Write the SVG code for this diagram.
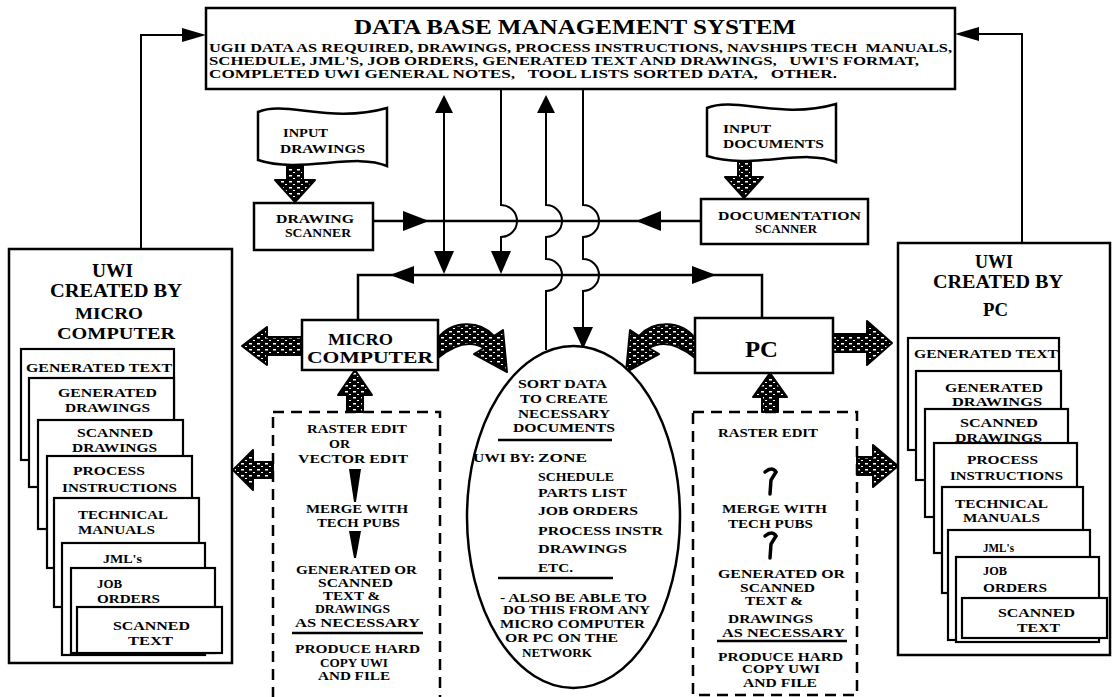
<svg xmlns="http://www.w3.org/2000/svg" width="1112" height="697" viewBox="0 0 1112 697">
<style>
.t{font-family:"Liberation Serif","DejaVu Serif",serif;font-weight:bold;fill:#000}
.f21{font-size:21px}.f19{font-size:19px}.f18{font-size:17.5px}.f14{font-size:13.5px}.f125{font-size:12.5px}.f13{font-size:13px}.f12{font-size:12px}.f16{font-size:16px}.f23{font-size:23px}
.box{fill:#fff;stroke:#000;stroke-width:2.5}
.card{fill:#fff;stroke:#000;stroke-width:2.2}
.dash{fill:none;stroke:#000;stroke-width:2.5;stroke-dasharray:11 7}
.ln{fill:none;stroke:#000;stroke-width:2}
.hd{fill:#000}
.blk{fill:url(#spk);stroke:#000;stroke-width:2;stroke-linejoin:round}
.rule{stroke:#000;stroke-width:2.5}
.sq{fill:none;stroke:#000;stroke-width:3.5;stroke-linecap:round}
</style>
<defs>
<pattern id="spk" width="8" height="6" patternUnits="userSpaceOnUse">
<rect width="8" height="6" fill="#000"/>
<rect x="1" y="1" width="3" height="1.5" fill="#fff"/>
<rect x="5" y="4" width="2" height="1" fill="#fff"/>
</pattern>
</defs>

<g id="connectors">
<path class="ln" d="M141,249 V35 H182"/>
<polygon class="hd" points="182,28 206,35 182,42"/>
<path class="ln" d="M1022,243 V34 H979"/>
<polygon class="hd" points="979,27 955,34 979,41"/>
<path class="ln" d="M444,112 V253"/>
<polygon class="hd" points="435,113 453,113 444,95"/>
<polygon class="hd" points="434,251 454,251 444,274"/>
<path class="ln" d="M501,89 V205 A16,16 0 0 1 501,237 V253"/>
<polygon class="hd" points="491,251 511,251 501,274"/>
<path class="ln" d="M546,112 V205 A16,16 0 0 1 546,237 V259 A16,16 0 0 1 546,291 V350"/>
<polygon class="hd" points="537,113 555,113 546,95"/>
<path class="ln" d="M583,89 V205 A16,16 0 0 1 583,237 V259 A16,16 0 0 1 583,291 V330"/>
<polygon class="hd" points="573,327 593,327 583,349"/>
<path class="ln" d="M373,221 H701" style="stroke-width:2.5"/>
<polygon class="hd" points="403,211 429,221 403,231"/>
<polygon class="hd" points="661,211 636,221 661,231"/>
<path class="ln" d="M358,320 V275 H762 V318" style="stroke-width:2.5"/>
<polygon class="hd" points="414,266 390,275 414,284"/>
<polygon class="hd" points="692,266 716,275 692,284"/>
<polygon class="blk" points="287,166 303,166 303,180 315,180 295,202 275,180 287,180"/>
<polygon class="blk" points="738,162 751,162 751,177 763,177 744,198 725,177 738,177"/>
<polygon class="blk" points="302,337 267,337 267,327 242,346 267,365 267,355 302,355"/>
<polygon class="blk" points="833,334 867,334 867,321 892,343 867,365 867,352 833,352"/>
<polygon class="blk" points="273,462 253,462 253,450 233,470 253,490 253,478 273,478"/>
<polygon class="blk" points="857,457 873,457 873,445 898,466 873,487 873,475 857,475"/>
<polygon class="blk" points="347,412 347,395 338,395 355,370 372,395 363,395 363,412"/>
<polygon class="blk" points="762,412 762,397 753,397 770,373 787,397 778,397 778,412"/>
<path class="blk" d="M438,338 C452,320 480,320 494,336 L503,330 L507,372 L474,354 L484,348 C470,340 455,344 438,358 Z"/>
<path class="blk" d="M695,338 C681,320 653,320 639,336 L630,330 L626,372 L659,354 L649,348 C663,340 678,344 695,358 Z"/>
</g>

<g id="dbms">
<rect class="box" x="206" y="8" width="749" height="81"/>
<text class="t f21" x="354" y="34" textLength="442" lengthAdjust="spacingAndGlyphs">DATA BASE MANAGEMENT SYSTEM</text>
<text class="t f12" x="209" y="52" textLength="743" lengthAdjust="spacingAndGlyphs" xml:space="preserve">UGII DATA AS REQUIRED, DRAWINGS, PROCESS INSTRUCTIONS, NAVSHIPS TECH  MANUALS,</text>
<text class="t f12" x="209" y="65" textLength="710" lengthAdjust="spacingAndGlyphs" xml:space="preserve">SCHEDULE, JML'S, JOB ORDERS, GENERATED TEXT AND DRAWINGS,   UWI'S FORMAT,</text>
<text class="t f12" x="209" y="78" textLength="628" lengthAdjust="spacingAndGlyphs" xml:space="preserve">COMPLETED UWI GENERAL NOTES,   TOOL LISTS SORTED DATA,   OTHER.</text>
</g>

<g id="input-drawings">
<path class="box" d="M258,112 C285,100 330,124 387,108 L387,166 C355,152 300,174 258,160 Z"/>
<text class="t f12" x="283" y="137" textLength="45" lengthAdjust="spacingAndGlyphs">INPUT</text>
<text class="t f12" x="280" y="153" textLength="85" lengthAdjust="spacingAndGlyphs">DRAWINGS</text>
</g>

<g id="input-documents">
<path class="box" d="M707,108 C735,96 780,120 836,104 L836,162 C804,148 750,170 707,156 Z"/>
<text class="t f12" x="723" y="133" textLength="48" lengthAdjust="spacingAndGlyphs">INPUT</text>
<text class="t f12" x="723" y="148" textLength="101" lengthAdjust="spacingAndGlyphs">DOCUMENTS</text>
</g>

<g id="drawing-scanner">
<rect class="box" x="254" y="203" width="119" height="47"/>
<text class="t f13" x="276" y="223" textLength="78" lengthAdjust="spacingAndGlyphs">DRAWING</text>
<text class="t f13" x="285" y="237" textLength="66" lengthAdjust="spacingAndGlyphs">SCANNER</text>
</g>

<g id="documentation-scanner">
<rect class="box" x="701" y="199" width="167" height="45"/>
<text class="t f13" x="718" y="220" textLength="143" lengthAdjust="spacingAndGlyphs">DOCUMENTATION</text>
<text class="t f13" x="755" y="233" textLength="62" lengthAdjust="spacingAndGlyphs">SCANNER</text>
</g>

<g id="micro-computer">
<rect class="box" x="302" y="320" width="136" height="50"/>
<text class="t f16" x="328" y="345" textLength="65" lengthAdjust="spacingAndGlyphs">MICRO</text>
<text class="t f16" x="307" y="363" textLength="126" lengthAdjust="spacingAndGlyphs">COMPUTER</text>
</g>

<g id="pc">
<rect class="box" x="695" y="318" width="138" height="55"/>
<text class="t f23" x="745" y="357" textLength="33" lengthAdjust="spacingAndGlyphs">PC</text>
</g>

<g id="sort-data">
<ellipse class="box" cx="573.5" cy="517" rx="106.5" ry="171"/>
<text class="t f12" x="518" y="388" textLength="89" lengthAdjust="spacingAndGlyphs">SORT DATA</text>
<text class="t f12" x="520" y="403" textLength="88" lengthAdjust="spacingAndGlyphs">TO CREATE</text>
<text class="t f12" x="518" y="418" textLength="92" lengthAdjust="spacingAndGlyphs">NECESSARY</text>
<text class="t f12" x="513" y="432" textLength="102" lengthAdjust="spacingAndGlyphs">DOCUMENTS</text>
<line class="rule" x1="498" y1="440" x2="612" y2="440"/>
<text class="t f12" x="473" y="462" textLength="62" lengthAdjust="spacingAndGlyphs">UWI BY:</text>
<text class="t f12" x="538" y="462" textLength="49" lengthAdjust="spacingAndGlyphs">ZONE</text>
<text class="t f125" x="538" y="481" textLength="76" lengthAdjust="spacingAndGlyphs">SCHEDULE</text>
<text class="t f12" x="538" y="497" textLength="89" lengthAdjust="spacingAndGlyphs">PARTS LIST</text>
<text class="t f12" x="538" y="515" textLength="100" lengthAdjust="spacingAndGlyphs">JOB ORDERS</text>
<text class="t f12" x="538" y="535" textLength="125" lengthAdjust="spacingAndGlyphs">PROCESS INSTR</text>
<text class="t f12" x="538" y="553" textLength="89" lengthAdjust="spacingAndGlyphs">DRAWINGS</text>
<text class="t f12" x="538" y="572" textLength="35" lengthAdjust="spacingAndGlyphs">ETC.</text>
<line class="rule" x1="498" y1="578" x2="613" y2="578"/>
<text class="t f12" x="500" y="602" textLength="147" lengthAdjust="spacingAndGlyphs">- ALSO BE ABLE TO</text>
<text class="t f12" x="503" y="614" textLength="147" lengthAdjust="spacingAndGlyphs">DO THIS FROM ANY</text>
<text class="t f12" x="500" y="628" textLength="145" lengthAdjust="spacingAndGlyphs">MICRO COMPUTER</text>
<text class="t f12" x="505" y="642" textLength="113" lengthAdjust="spacingAndGlyphs">OR PC ON THE</text>
<text class="t f12" x="522" y="657" textLength="70" lengthAdjust="spacingAndGlyphs">NETWORK</text>
</g>

<g id="micro-edit">
<rect class="dash" x="273" y="412" width="167" height="300"/>
<text class="t f12" x="307" y="433" textLength="100" lengthAdjust="spacingAndGlyphs">RASTER EDIT</text>
<text class="t f12" x="329" y="448" textLength="21" lengthAdjust="spacingAndGlyphs">OR</text>
<text class="t f12" x="298" y="463" textLength="110" lengthAdjust="spacingAndGlyphs">VECTOR EDIT</text>
<path class="hd" d="M349,469 L361,469 L356,502 L354,502 Z"/>
<text class="t f12" x="306" y="513" textLength="102" lengthAdjust="spacingAndGlyphs">MERGE WITH</text>
<text class="t f12" x="317" y="527" textLength="83" lengthAdjust="spacingAndGlyphs">TECH PUBS</text>
<path class="hd" d="M349,531 L361,531 L356,558 L354,558 Z"/>
<text class="t f12" x="296" y="574" textLength="121" lengthAdjust="spacingAndGlyphs">GENERATED OR</text>
<text class="t f12" x="318" y="587" textLength="75" lengthAdjust="spacingAndGlyphs">SCANNED</text>
<text class="t f12" x="323" y="600" textLength="57" lengthAdjust="spacingAndGlyphs">TEXT &amp;</text>
<text class="t f12" x="315" y="613" textLength="75" lengthAdjust="spacingAndGlyphs">DRAWINGS</text>
<text class="t f12" x="295" y="627" textLength="125" lengthAdjust="spacingAndGlyphs">AS NECESSARY</text>
<line class="rule" x1="292" y1="633" x2="423" y2="633"/>
<text class="t f12" x="295" y="653" textLength="125" lengthAdjust="spacingAndGlyphs">PRODUCE HARD</text>
<text class="t f12" x="320" y="667" textLength="68" lengthAdjust="spacingAndGlyphs">COPY UWI</text>
<text class="t f12" x="318" y="680" textLength="72" lengthAdjust="spacingAndGlyphs">AND FILE</text>
</g>

<g id="pc-edit">
<rect class="dash" x="693" y="412" width="164" height="283"/>
<text class="t f12" x="718" y="437" textLength="100" lengthAdjust="spacingAndGlyphs">RASTER EDIT</text>
<path class="sq" d="M765,472 Q772,466 776,472 L771,480 L770,494"/>
<text class="t f12" x="722" y="513" textLength="105" lengthAdjust="spacingAndGlyphs">MERGE WITH</text>
<text class="t f12" x="728" y="528" textLength="85" lengthAdjust="spacingAndGlyphs">TECH PUBS</text>
<path class="sq" d="M765,536 Q772,530 776,536 L771,544 L770,558"/>
<text class="t f12" x="718" y="578" textLength="127" lengthAdjust="spacingAndGlyphs">GENERATED OR</text>
<text class="t f12" x="740" y="592" textLength="75" lengthAdjust="spacingAndGlyphs">SCANNED</text>
<text class="t f12" x="745" y="605" textLength="58" lengthAdjust="spacingAndGlyphs">TEXT &amp;</text>
<text class="t f12" x="728" y="623" textLength="85" lengthAdjust="spacingAndGlyphs">DRAWINGS</text>
<text class="t f12" x="722" y="637" textLength="123" lengthAdjust="spacingAndGlyphs">AS NECESSARY</text>
<line class="rule" x1="717" y1="641" x2="847" y2="641"/>
<text class="t f12" x="718" y="661" textLength="125" lengthAdjust="spacingAndGlyphs">PRODUCE HARD</text>
<text class="t f12" x="742" y="673" textLength="78" lengthAdjust="spacingAndGlyphs">COPY UWI</text>
<text class="t f12" x="743" y="687" textLength="74" lengthAdjust="spacingAndGlyphs">AND FILE</text>
</g>

<g id="uwi-micro">
<rect class="box" x="9" y="249" width="223" height="414"/>
<text class="t f19" x="92" y="277" textLength="41" lengthAdjust="spacingAndGlyphs">UWI</text>
<text class="t f19" x="50" y="297" textLength="132" lengthAdjust="spacingAndGlyphs">CREATED BY</text>
<text class="t f18" x="75" y="319" textLength="68" lengthAdjust="spacingAndGlyphs">MICRO</text>
<text class="t f18" x="57" y="339" textLength="118" lengthAdjust="spacingAndGlyphs">COMPUTER</text>
<rect class="card" x="21" y="349" width="153" height="111"/>
<text class="t f14" x="26" y="372" textLength="146" lengthAdjust="spacingAndGlyphs">GENERATED TEXT</text>
<rect class="card" x="29" y="378" width="145" height="109"/>
<text class="t f14" x="58" y="397" textLength="99" lengthAdjust="spacingAndGlyphs">GENERATED</text>
<text class="t f14" x="65" y="412" textLength="85" lengthAdjust="spacingAndGlyphs">DRAWINGS</text>
<rect class="card" x="38" y="420" width="145" height="109"/>
<text class="t f14" x="77" y="437" textLength="76" lengthAdjust="spacingAndGlyphs">SCANNED</text>
<text class="t f14" x="72" y="452" textLength="85" lengthAdjust="spacingAndGlyphs">DRAWINGS</text>
<rect class="card" x="47" y="456" width="145" height="112"/>
<text class="t f14" x="73" y="475" textLength="72" lengthAdjust="spacingAndGlyphs">PROCESS</text>
<text class="t f14" x="62" y="492" textLength="115" lengthAdjust="spacingAndGlyphs">INSTRUCTIONS</text>
<rect class="card" x="54" y="498" width="145" height="109"/>
<text class="t f125" x="78" y="519" textLength="90" lengthAdjust="spacingAndGlyphs">TECHNICAL</text>
<text class="t f125" x="78" y="534" textLength="77" lengthAdjust="spacingAndGlyphs">MANUALS</text>
<rect class="card" x="62" y="543" width="143" height="112"/>
<text class="t f14" x="103" y="563" textLength="39" lengthAdjust="spacingAndGlyphs">JML's</text>
<rect class="card" x="71" y="568" width="144" height="85"/>
<text class="t f14" x="97" y="588" textLength="25" lengthAdjust="spacingAndGlyphs">JOB</text>
<text class="t f14" x="97" y="603" textLength="63" lengthAdjust="spacingAndGlyphs">ORDERS</text>
<rect class="card" x="77" y="607" width="145" height="46"/>
<text class="t f14" x="113" y="630" textLength="77" lengthAdjust="spacingAndGlyphs">SCANNED</text>
<text class="t f14" x="128" y="645" textLength="45" lengthAdjust="spacingAndGlyphs">TEXT</text>
</g>

<g id="uwi-pc">
<rect class="box" x="898" y="243" width="212" height="412"/>
<text class="t f19" x="975" y="268" textLength="38" lengthAdjust="spacingAndGlyphs">UWI</text>
<text class="t f19" x="933" y="288" textLength="130" lengthAdjust="spacingAndGlyphs">CREATED BY</text>
<text class="t f19" x="983" y="316" textLength="25" lengthAdjust="spacingAndGlyphs">PC</text>
<rect class="card" x="908" y="338" width="151" height="112"/>
<text class="t f14" x="914" y="358" textLength="144" lengthAdjust="spacingAndGlyphs">GENERATED TEXT</text>
<rect class="card" x="916" y="371" width="145" height="109"/>
<text class="t f14" x="945" y="392" textLength="98" lengthAdjust="spacingAndGlyphs">GENERATED</text>
<text class="t f14" x="952" y="406" textLength="90" lengthAdjust="spacingAndGlyphs">DRAWINGS</text>
<rect class="card" x="925" y="409" width="143" height="108"/>
<text class="t f14" x="960" y="427" textLength="78" lengthAdjust="spacingAndGlyphs">SCANNED</text>
<text class="t f14" x="955" y="442" textLength="87" lengthAdjust="spacingAndGlyphs">DRAWINGS</text>
<rect class="card" x="934" y="443" width="143" height="110"/>
<text class="t f14" x="967" y="464" textLength="71" lengthAdjust="spacingAndGlyphs">PROCESS</text>
<text class="t f14" x="950" y="480" textLength="113" lengthAdjust="spacingAndGlyphs">INSTRUCTIONS</text>
<rect class="card" x="942" y="487" width="141" height="106"/>
<text class="t f125" x="955" y="508" textLength="93" lengthAdjust="spacingAndGlyphs">TECHNICAL</text>
<text class="t f125" x="963" y="522" textLength="77" lengthAdjust="spacingAndGlyphs">MANUALS</text>
<rect class="card" x="948" y="530" width="142" height="110"/>
<text class="t f14" x="983" y="552" textLength="31" lengthAdjust="spacingAndGlyphs">JML's</text>
<rect class="card" x="956" y="557" width="143" height="85"/>
<text class="t f14" x="983" y="575" textLength="24" lengthAdjust="spacingAndGlyphs">JOB</text>
<text class="t f14" x="983" y="592" textLength="64" lengthAdjust="spacingAndGlyphs">ORDERS</text>
<rect class="card" x="962" y="598" width="145" height="40"/>
<text class="t f14" x="998" y="617" textLength="77" lengthAdjust="spacingAndGlyphs">SCANNED</text>
<text class="t f14" x="1017" y="632" textLength="43" lengthAdjust="spacingAndGlyphs">TEXT</text>
</g>
</svg>
